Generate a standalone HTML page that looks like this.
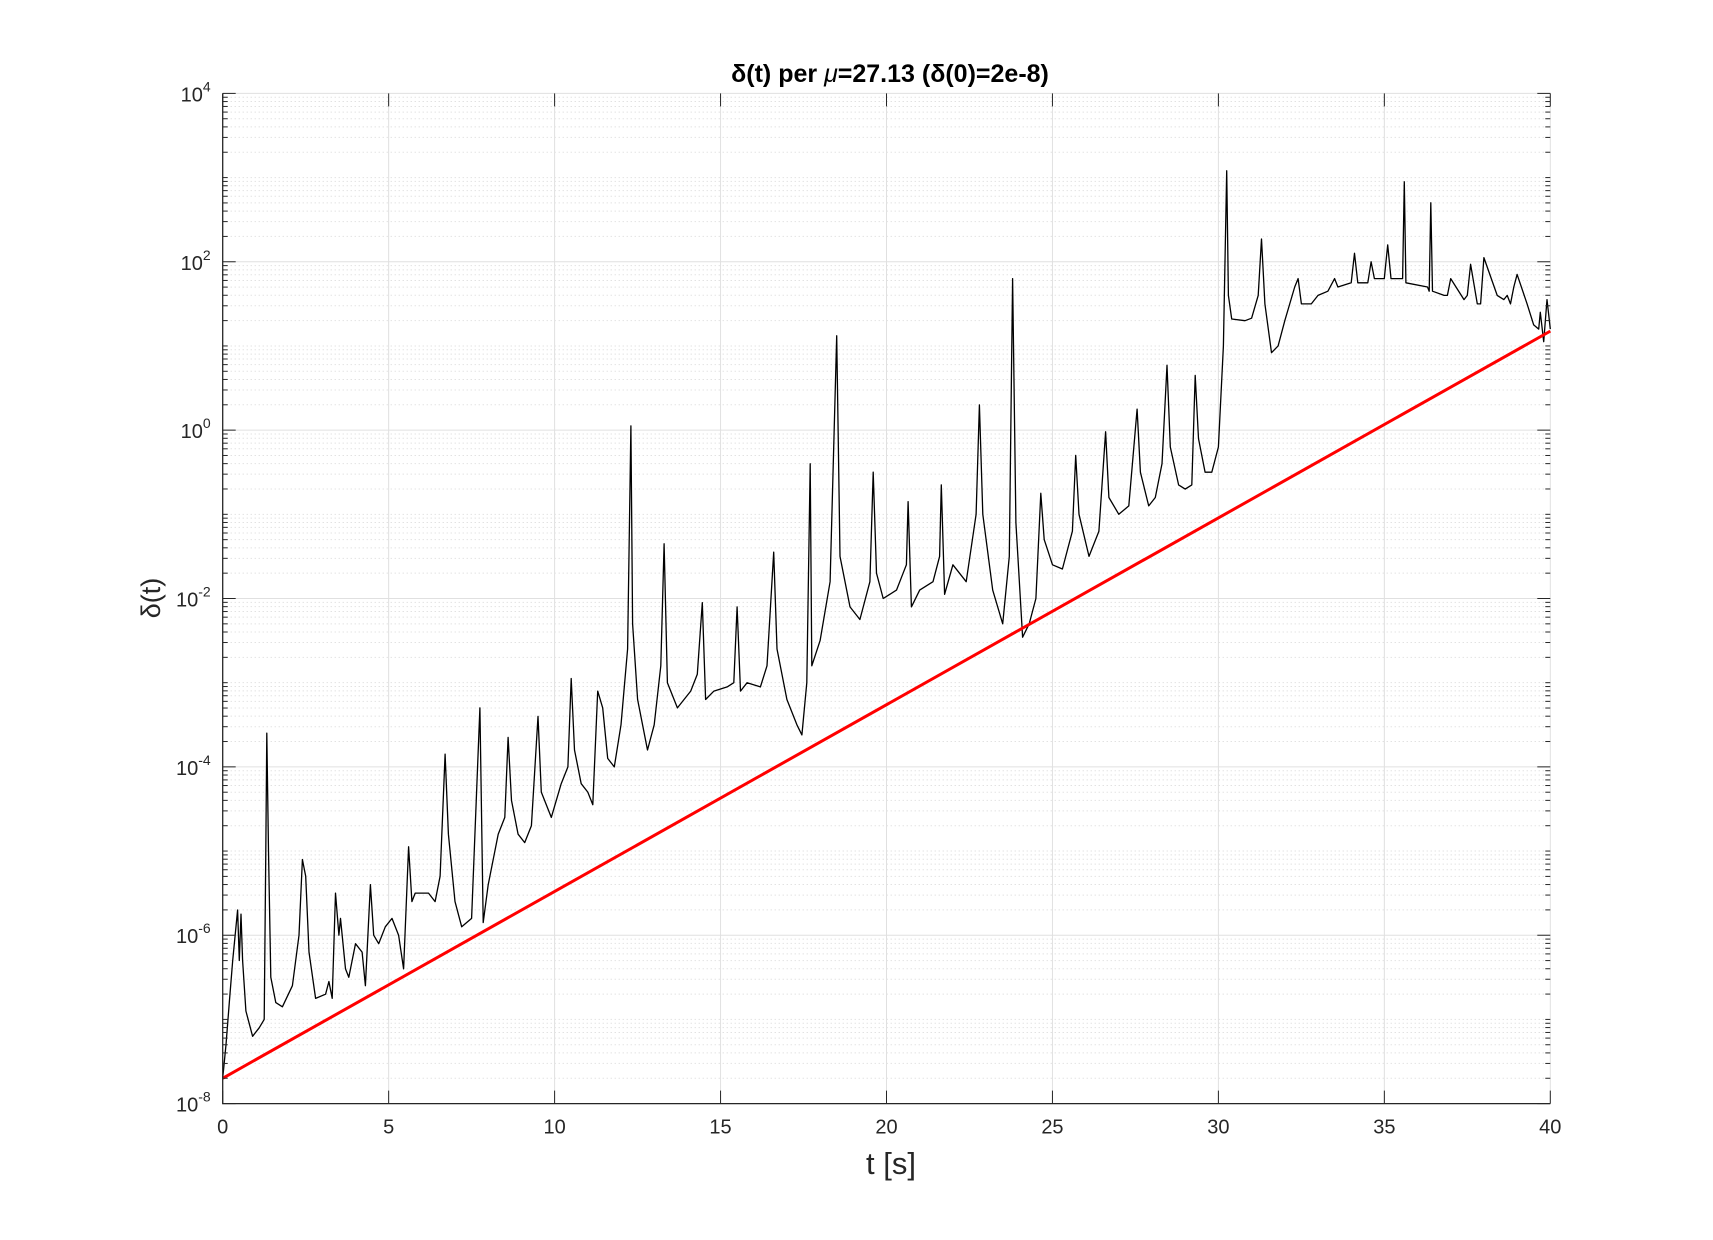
<!DOCTYPE html>
<html><head><meta charset="utf-8"><style>
html,body{margin:0;padding:0;background:#fff;}
svg{display:block;font-family:"Liberation Sans","DejaVu Sans",sans-serif;}
</style></head><body>
<svg id="chart" width="1713" height="1240" viewBox="0 0 1713 1240" xmlns="http://www.w3.org/2000/svg">
<rect width="1713" height="1240" fill="#fff"/>
<g id="grid"></g>
<g id="series"></g>
<g id="axes"></g>
<text x="890" y="82" text-anchor="middle" font-size="25" font-weight="bold" fill="#000">δ(t) per <tspan font-style="italic" font-weight="normal">μ</tspan>=27.13 (δ(0)=2e-8)</text>
<text x="891" y="1174" text-anchor="middle" font-size="31" fill="#262626">t [s]</text>
<text transform="translate(160,598) rotate(-90)" text-anchor="middle" font-size="27" fill="#262626">δ(t)</text>
</svg>
<script>
const xTicks = [0,5,10,15,20,25,30,35,40];
const yTickExps = [-8,-6,-4,-2,0,2,4];
const tVals = [0,0.1,0.2,0.3,0.45,0.5,0.55,0.6,0.7,0.9,1.1,1.25,1.3,1.33,1.38,1.45,1.6,1.8,2.1,2.3,2.4,2.5,2.6,2.8,3.1,3.2,3.3,3.4,3.5,3.55,3.7,3.8,4.0,4.2,4.3,4.45,4.55,4.7,4.9,5.1,5.3,5.45,5.6,5.7,5.8,6.2,6.4,6.55,6.7,6.8,7.0,7.2,7.5,7.75,7.85,8.0,8.3,8.5,8.6,8.7,8.9,9.1,9.3,9.5,9.6,9.9,10.2,10.4,10.5,10.6,10.8,11.0,11.15,11.3,11.45,11.6,11.8,12.0,12.2,12.3,12.35,12.5,12.8,13.0,13.2,13.3,13.4,13.7,14.1,14.3,14.45,14.55,14.8,15.2,15.4,15.5,15.6,15.8,16.2,16.4,16.6,16.7,17.0,17.3,17.45,17.6,17.7,17.75,18.0,18.3,18.5,18.6,18.9,19.2,19.5,19.6,19.7,19.9,20.3,20.5,20.6,20.65,20.75,21.0,21.4,21.6,21.65,21.75,22.0,22.4,22.7,22.8,22.9,23.2,23.5,23.7,23.8,23.9,24.1,24.3,24.5,24.65,24.75,25.0,25.3,25.6,25.7,25.8,26.1,26.4,26.6,26.7,27.0,27.3,27.55,27.65,27.9,28.1,28.3,28.45,28.55,28.8,29.0,29.2,29.3,29.4,29.6,29.8,30.0,30.15,30.25,30.3,30.4,30.8,31.0,31.2,31.3,31.4,31.6,31.8,32.0,32.3,32.4,32.5,32.8,33.0,33.3,33.5,33.6,34.0,34.1,34.2,34.5,34.6,34.7,35.0,35.1,35.2,35.5,35.55,35.6,35.65,36.3,36.35,36.4,36.45,36.8,36.9,37.0,37.4,37.5,37.6,37.8,37.9,38.0,38.4,38.6,38.7,38.8,38.9,39.0,39.3,39.5,39.65,39.7,39.8,39.9,40];
const logDelta = [-7.7,-7.3,-6.8,-6.3,-5.7,-6.3,-5.75,-6.3,-6.9,-7.2,-7.1,-7.0,-5.0,-3.6,-5.0,-6.5,-6.8,-6.85,-6.6,-6.0,-5.1,-5.3,-6.2,-6.75,-6.7,-6.55,-6.75,-5.5,-6.0,-5.8,-6.4,-6.5,-6.1,-6.2,-6.6,-5.4,-6.0,-6.1,-5.9,-5.8,-6.0,-6.4,-4.95,-5.6,-5.5,-5.5,-5.6,-5.3,-3.85,-4.8,-5.6,-5.9,-5.8,-3.3,-5.85,-5.4,-4.8,-4.6,-3.65,-4.4,-4.8,-4.9,-4.7,-3.4,-4.3,-4.6,-4.2,-4.0,-2.95,-3.8,-4.2,-4.3,-4.45,-3.1,-3.3,-3.9,-4.0,-3.5,-2.6,0.05,-2.3,-3.2,-3.8,-3.5,-2.8,-1.35,-3.0,-3.3,-3.1,-2.9,-2.05,-3.2,-3.1,-3.05,-3.0,-2.1,-3.1,-3.0,-3.05,-2.8,-1.45,-2.6,-3.2,-3.5,-3.62,-3.0,-0.4,-2.8,-2.5,-1.8,1.12,-1.5,-2.1,-2.25,-1.8,-0.5,-1.7,-2.0,-1.9,-1.7,-1.6,-0.85,-2.1,-1.9,-1.8,-1.5,-0.65,-1.95,-1.6,-1.8,-1.0,0.3,-1.0,-1.9,-2.3,-1.5,1.8,-1.1,-2.46,-2.3,-2.0,-0.75,-1.3,-1.6,-1.65,-1.2,-0.3,-1.0,-1.5,-1.2,-0.02,-0.8,-1.0,-0.9,0.25,-0.5,-0.9,-0.8,-0.4,0.77,-0.2,-0.65,-0.7,-0.65,0.65,-0.1,-0.5,-0.5,-0.2,1.0,3.08,1.6,1.32,1.3,1.33,1.6,2.27,1.5,0.92,1.0,1.3,1.7,1.8,1.5,1.5,1.6,1.65,1.8,1.7,1.75,2.1,1.75,1.75,2.0,1.8,1.8,2.2,1.8,1.8,1.8,2.95,1.75,1.7,1.65,2.7,1.65,1.6,1.6,1.8,1.55,1.6,1.97,1.5,1.5,2.05,1.6,1.55,1.6,1.5,1.7,1.85,1.5,1.25,1.2,1.4,1.05,1.55,1.2,1.15];
const redStart = 2e-8, redEnd = 15, redT0 = 0, redT1 = 40;

const NS='http://www.w3.org/2000/svg';
const L=222.7,R=1550.3,T=93.4,B=1103.6, xMin=0,xMax=40,yMinE=-8,yMaxE=4;
function xs(t){return L+(t-xMin)/(xMax-xMin)*(R-L);}
function ysE(e){return B-(e-yMinE)/(yMaxE-yMinE)*(B-T);}
function mk(tag,attrs,parent){const e=document.createElementNS(NS,tag);for(const k in attrs)e.setAttribute(k,attrs[k]);parent.appendChild(e);return e;}
const grid=document.getElementById('grid'), axes=document.getElementById('axes'), ser=document.getElementById('series');
for(let d=yMinE; d<yMaxE; d++){
  for(let m=1;m<=9;m++){
    const e=d+Math.log10(m); if(m===1 && d%2===0) continue;
    const y=ysE(e);
    const ln=mk('line',{x1:L,x2:R,y1:y,y2:y,stroke:'#d6d6d6','stroke-width':1,'stroke-dasharray':'1,3'},grid);
    
    
    mk('line',{x1:L,x2:L+5,y1:y,y2:y,stroke:'#262626','stroke-width':1},axes);
    mk('line',{x1:R,x2:R-5,y1:y,y2:y,stroke:'#262626','stroke-width':1},axes);
  }
}
yTickExps.forEach(e=>{
  const y=ysE(e);
  const ln=mk('line',{x1:L,x2:R,y1:y,y2:y,stroke:'#e0e0e0','stroke-width':1},grid);
  
  
  mk('line',{x1:L,x2:L+13,y1:y,y2:y,stroke:'#262626','stroke-width':1},axes);
  mk('line',{x1:R,x2:R-13,y1:y,y2:y,stroke:'#262626','stroke-width':1},axes);
  const tx=mk('text',{x:L-12,y:y+8,'text-anchor':'end','font-size':20,fill:'#262626'},axes);
  
  
  tx.appendChild(document.createTextNode('10'));
  const sp=mk('tspan',{dy:-10,'font-size':14},tx); sp.textContent=String(e);
});
xTicks.forEach(t=>{
  const x=xs(t);
  const ln=mk('line',{x1:x,x2:x,y1:T,y2:B,stroke:'#e0e0e0','stroke-width':1},grid);
  
  
  mk('line',{x1:x,x2:x,y1:B,y2:B-13,stroke:'#262626','stroke-width':1},axes);
  mk('line',{x1:x,x2:x,y1:T,y2:T+13,stroke:'#262626','stroke-width':1},axes);
  const tx=mk('text',{x:x,y:B+30,'text-anchor':'middle','font-size':20,fill:'#262626'},axes);
  
  
  tx.textContent=String(t);
});
const frame=mk('path',{d:`M${L},${T}V${B}H${R}`,fill:'none',stroke:'#262626','stroke-width':1.3},axes);


let d='';
tVals.forEach((t,i)=>{d+=(i?'L':'M')+xs(t).toFixed(1)+','+ysE(logDelta[i]).toFixed(1);});
const p=mk('path',{d:d,fill:'none',stroke:'#000','stroke-width':1.3,'stroke-linejoin':'round'},ser);


const rl=mk('line',{x1:xs(redT0),y1:ysE(Math.log10(redStart)),x2:xs(redT1),y2:ysE(Math.log10(redEnd)),stroke:'#ff0000','stroke-width':3},ser);


</script>
</body></html>
